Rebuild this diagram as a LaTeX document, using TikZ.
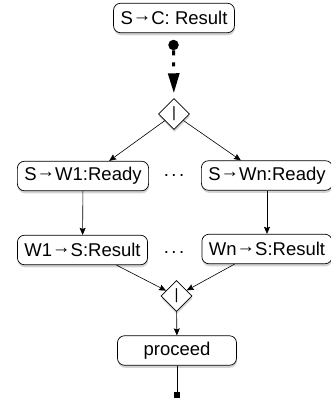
\documentclass[tikz,border=0pt]{standalone}
\usepackage{fontspec}
\setmainfont{Liberation Sans}
\usetikzlibrary{arrows.meta}
\usetikzlibrary{shapes.geometric}
\usetikzlibrary{shadows}

\newcommand{\msgto}{\raisebox{0.17em}{→}}

\tikzset{
  msg/.style={draw, fill=white, rounded corners=7pt, line width=0.7pt,
    minimum width=119pt, minimum height=29.5pt, inner xsep=7pt,
    font=\fontsize{18.5}{22}\selectfont,
    drop shadow={shadow xshift=0.5pt, shadow yshift=-2.5pt, opacity=0.35}},
  gate/.style={diamond, draw, fill=white, line width=0.7pt, aspect=1,
    minimum width=31pt, minimum height=31pt, inner sep=0pt,
    font=\fontsize{15}{15}\selectfont,
    drop shadow={shadow xshift=0.5pt, shadow yshift=-2.5pt, opacity=0.35}},
  flow/.style={line width=0.6pt, -{Stealth[length=7pt,width=6pt,inset=1pt]}},
  gap/.style={font=\fontsize{18.5}{22}\selectfont}
}

\begin{document}
\begin{tikzpicture}[x=1pt,y=-1pt]
  \useasboundingbox (0,0) rectangle (331,402);
  \node[msg] (reply) at (174,18) {S\msgto C: Result};
  \node[circle, fill, inner sep=0pt, minimum size=10.5pt] (init) at (173.5,45) {};
  \node[gate] (fork) at (174,114) {|};
  \node[msg] (readyL) at (83,176) {S\msgto W1:Ready};
  \node[gap] (dotsA) at (174,176) {.\hspace{2.5pt}.\hspace{2.5pt}.};
  \node[msg] (readyR) at (267,175.5) {S\msgto Wn:Ready};
  \node[msg] (resultL) at (82.5,250) {W1\msgto S:Result};
  \node[gap] (dotsB) at (174,253) {.\hspace{2.5pt}.\hspace{2.5pt}.};
  \node[msg] (resultR) at (267,249) {Wn\msgto S:Result};
  \node[gate] (join) at (176.5,296) {|};
  \node[msg] (proceed) at (177,350.5) {proceed};
  \node[fill, inner sep=0pt, minimum size=6pt] (final) at (177,395) {};

  \draw[line width=3pt, dash pattern=on 5pt off 7pt on 4pt off 20pt,
    -{Triangle[length=20pt,width=11pt]}, shorten >=5pt] (init) -- (fork);
  \path[flow]
    (fork)    edge (readyL.30)
              edge (readyR.150)
    (readyL)  edge (resultL)
    (readyR)  edge (resultR)
    (resultL.-24) edge (join)
    (resultR.205) edge (join)
    (join)    edge (proceed);
  \draw[line width=0.6pt] (proceed) -- (final);
\end{tikzpicture}
\end{document}
